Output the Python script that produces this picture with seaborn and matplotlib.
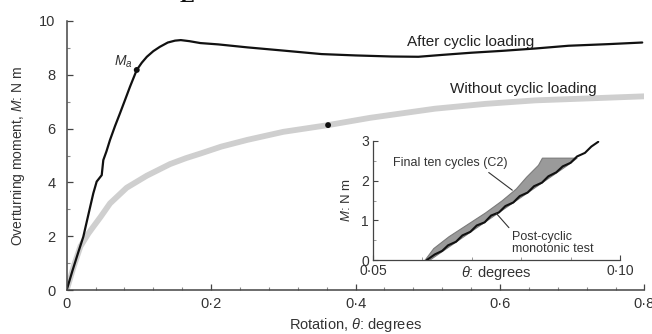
import matplotlib
matplotlib.use("Agg")
import matplotlib.pyplot as plt
from matplotlib.ticker import MultipleLocator
import seaborn as sns
import pandas as pd

# ---- main curves: rotation (degrees) vs overturning moment (N m) ----
theta_after = [0, 0.008, 0.016, 0.023, 0.030, 0.0368, 0.0415, 0.0485, 0.0507, 0.055,
               0.060, 0.067, 0.0738, 0.081, 0.0877, 0.097, 0.104, 0.111, 0.120, 0.129,
               0.140, 0.150, 0.158, 0.170, 0.185, 0.210, 0.25, 0.30, 0.353, 0.40,
               0.45, 0.487, 0.52, 0.56, 0.603, 0.65, 0.695, 0.75, 0.797]
moment_after = [0, 0.72, 1.4, 1.98, 2.8, 3.59, 4.03, 4.27, 4.83, 5.15,
                5.58, 6.1, 6.57, 7.08, 7.56, 8.18, 8.45, 8.67, 8.88, 9.04,
                9.2, 9.27, 9.29, 9.25, 9.18, 9.13, 9.02, 8.9, 8.77, 8.72,
                8.68, 8.67, 8.74, 8.82, 8.89, 8.98, 9.08, 9.14, 9.2]

theta_without = [0, 0.005, 0.010, 0.019, 0.030, 0.0368, 0.047, 0.060, 0.083, 0.111,
                 0.143, 0.165, 0.186, 0.214, 0.25, 0.30, 0.362, 0.42, 0.51, 0.58,
                 0.649, 0.72, 0.80]
moment_without = [0, 0.45, 0.9, 1.62, 2.1, 2.35, 2.72, 3.22, 3.8, 4.25,
                  4.68, 4.9, 5.08, 5.33, 5.58, 5.88, 6.13, 6.4, 6.74, 6.92,
                  7.05, 7.12, 7.2]

# marked points on each curve
mark_theta = [0.097, 0.362]
mark_moment = [8.18, 6.13]

x_ticks = [0, 0.2, 0.4, 0.6, 0.8]
x_labels = ["0", "0·2", "0·4", "0·6", "0·8"]
y_ticks = [0, 2, 4, 6, 8, 10]
y_labels = ["0", "2", "4", "6", "8", "10"]

# ---- inset: final ten cycles (band) and post-cyclic monotonic test ----
band_moment = [0, 0.3, 0.6, 0.9, 1.2, 1.5, 1.8, 2.1, 2.4, 2.58]
band_theta_left = [0.0604, 0.0622, 0.0653, 0.0690, 0.0727, 0.0760, 0.0789, 0.0810, 0.0834, 0.0842]
band_theta_right = [0.0613, 0.0648, 0.0683, 0.0718, 0.0753, 0.0788, 0.0823, 0.0858, 0.0893, 0.0912]

theta_post = [0.0609, 0.0625, 0.0640, 0.0652, 0.0668, 0.0681, 0.0697, 0.0710, 0.0726,
              0.0739, 0.0755, 0.0768, 0.0784, 0.0797, 0.0813, 0.0826, 0.0842, 0.0855,
              0.0871, 0.0884, 0.0900, 0.0913, 0.0929, 0.0942, 0.0956]
moment_post = [0, 0.14, 0.23, 0.37, 0.46, 0.62, 0.71, 0.87, 0.95,
               1.12, 1.20, 1.36, 1.45, 1.61, 1.70, 1.86, 1.95, 2.11,
               2.21, 2.36, 2.45, 2.61, 2.70, 2.86, 2.98]

inset_x_ticks = [0.05, 0.10]
inset_x_labels = ["0·05", "0·10"]
inset_y_ticks = [0, 1, 2, 3]
inset_y_labels = ["0", "1", "2", "3"]

sns.set_theme(style="ticks")
plt.rcParams["font.family"] = ["Liberation Sans", "DejaVu Sans"]
plt.rcParams["mathtext.fontset"] = "custom"
plt.rcParams["mathtext.rm"] = "Liberation Sans"
plt.rcParams["mathtext.it"] = "Liberation Sans:italic"
plt.rcParams["mathtext.default"] = "it"

W, H = 652, 334
fig = plt.figure(figsize=(W / 100, H / 100), dpi=100)
fig.patch.set_facecolor("white")

def fx(px):
    return px / W

def fy(py):
    return 1 - py / H

axis_color = "#444444"

ax = fig.add_axes([fx(66.7), fy(290), fx(644.4) - fx(66.7), fy(21) - fy(290)])
df_after = pd.DataFrame({"theta": theta_after, "M": moment_after})
df_without = pd.DataFrame({"theta": theta_without, "M": moment_without})
sns.lineplot(data=df_without, x="theta", y="M", ax=ax, color="#cfcfcf", lw=4.2,
             sort=False, estimator=None)
sns.lineplot(data=df_after, x="theta", y="M", ax=ax, color="#111111", lw=1.6,
             sort=False, estimator=None)
sns.scatterplot(x=mark_theta, y=mark_moment, ax=ax, color="#111111", s=18,
                edgecolor="none", zorder=5)

ax.set_xlim(0, 0.8)
ax.set_ylim(0, 10)
ax.set_xticks(x_ticks, x_labels)
ax.set_yticks(y_ticks, y_labels)
ax.xaxis.set_minor_locator(MultipleLocator(0.04))
ax.yaxis.set_minor_locator(MultipleLocator(1))
ax.tick_params(axis="both", which="major", direction="in", length=4, width=0.9,
               color=axis_color, labelsize=10.5, labelcolor="#333333")
ax.tick_params(axis="both", which="minor", direction="in", length=2.5, width=0.8,
               color="#888888")
ax.tick_params(axis="x", pad=5)
ax.tick_params(axis="y", pad=8)
for side in ("top", "right"):
    ax.spines[side].set_visible(False)
for side in ("left", "bottom"):
    ax.spines[side].set_color(axis_color)
    ax.spines[side].set_linewidth(1.1)
ax.set_xlabel(r"Rotation, $\theta$: degrees", fontsize=10.5, color="#333333", labelpad=4)
ax.set_ylabel(r"Overturning moment, $M$: N m", fontsize=10, color="#333333", labelpad=9)

ax.text(0.632, 7.47, "Without cyclic loading", fontsize=11, color="#222222",
        ha="center", va="center")
ax.text(0.56, 9.23, "After cyclic loading", fontsize=11, color="#222222",
        ha="center", va="center")
ax.text(0.091, 8.5, r"$M_a$", fontsize=10, color="#333333", ha="right", va="center")

# inset
ins = fig.add_axes([fx(373), fy(260), fx(620) - fx(373), fy(141) - fy(260)])
ins.set_facecolor("white")
ins.fill_betweenx(band_moment, band_theta_left, band_theta_right, color="#9a9a9a",
                  edgecolor="#7a7a7a", lw=0.8, zorder=2)
df_post = pd.DataFrame({"theta": theta_post, "M": moment_post})
sns.lineplot(data=df_post, x="theta", y="M", ax=ins, color="#111111", lw=1.5,
             sort=False, estimator=None, zorder=3)
ins.set_xlim(0.05, 0.10)
ins.set_ylim(0, 3)
ins.set_xticks(inset_x_ticks, inset_x_labels)
ins.set_yticks(inset_y_ticks, inset_y_labels)
ins.xaxis.set_minor_locator(MultipleLocator(0.01))
ins.yaxis.set_minor_locator(MultipleLocator(0.5))
ins.tick_params(axis="both", which="major", direction="in", length=3.5, width=0.8,
                color=axis_color, labelsize=10, labelcolor="#333333")
ins.tick_params(axis="x", pad=3)
ins.tick_params(axis="y", pad=3)
ins.tick_params(axis="both", which="minor", direction="in", length=2, width=0.7,
                color="#999999")
for side in ("top", "right"):
    ins.spines[side].set_visible(False)
for side in ("left", "bottom"):
    ins.spines[side].set_color(axis_color)
    ins.spines[side].set_linewidth(0.9)
ins.set_xlabel(r"$\theta$: degrees", fontsize=10.5, color="#333333", labelpad=-10)
ins.set_ylabel(r"$M$: N m", fontsize=9.5, color="#333333", labelpad=6)

ins.annotate("Final ten cycles (C2)", xy=(0.0782, 1.76), xytext=(0.054, 2.44),
             fontsize=9, color="#333333", ha="left", va="center",
             arrowprops=dict(arrowstyle="-", color="#333333", lw=0.8,
                             shrinkA=0, shrinkB=0, relpos=(0.8, 0.0)))
ins.annotate("Post-cyclic\nmonotonic test", xy=(0.0750, 1.17), xytext=(0.0781, 0.43),
             fontsize=9, color="#333333", ha="left", va="center", linespacing=1.0,
             arrowprops=dict(arrowstyle="-", color="#333333", lw=0.8,
                             shrinkA=0, shrinkB=0, relpos=(0.0, 1.0)))

# panel letter, cut off at the top edge
fig.text(fx(187), fy(2), "E", fontsize=16, fontweight="bold", family="Liberation Serif",
         ha="center", va="baseline", color="#111111")

fig.savefig("out.png", dpi=100)
